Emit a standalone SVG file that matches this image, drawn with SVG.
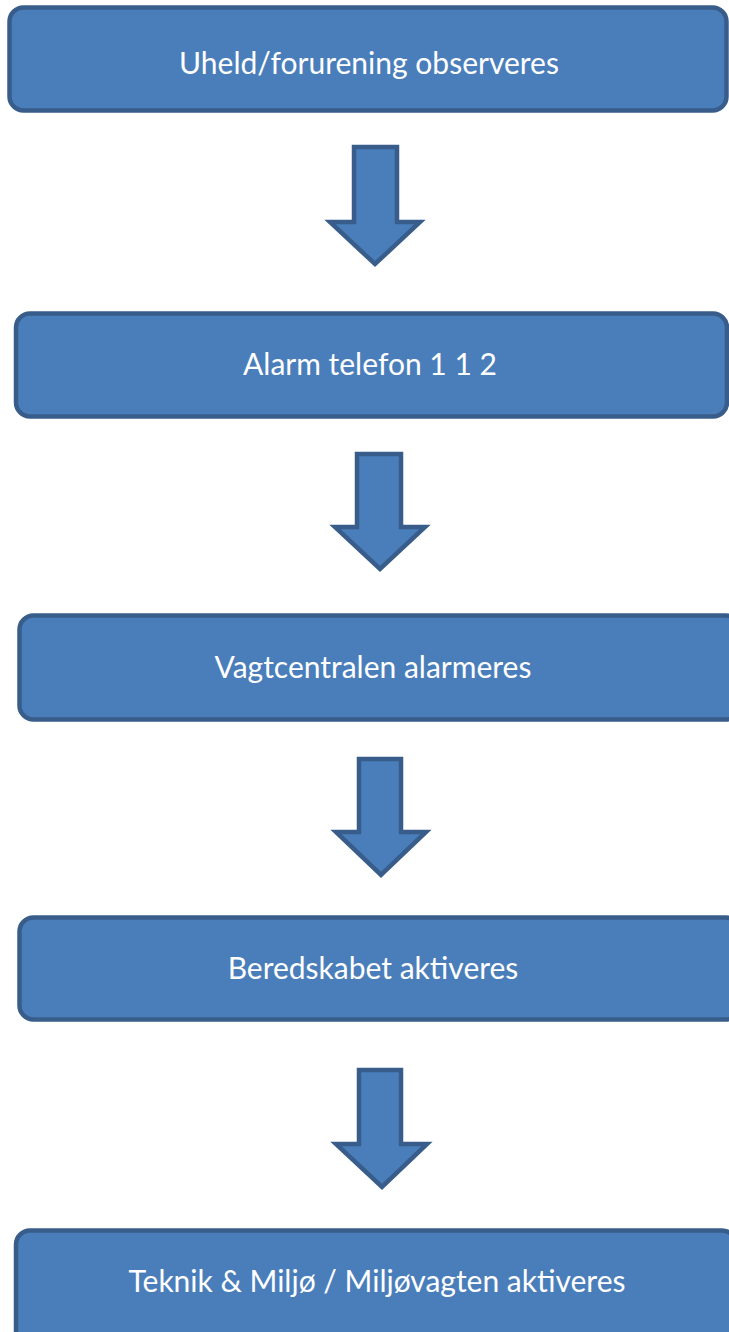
<svg xmlns="http://www.w3.org/2000/svg" width="729" height="1332" viewBox="0 0 729 1332">
<style>
.box{fill:#4a7ebb;stroke:#385d8a;stroke-width:4.5}
.arr{fill:#4a7ebb;stroke:#385d8a;stroke-width:4.5;stroke-linejoin:miter}
.lbl{font-family:Lato,"Open Sans",sans-serif;font-size:30px;fill:#ffffff;text-anchor:middle}
</style>
<rect width="729" height="1332" fill="#ffffff"/>
<g id="connectors">
<polygon class="arr" points="354,147 397,147 397,222 420,222 375,264 330,222 354,222"/>
<polygon class="arr" points="357,454 401,454 401,527 425,527 380,569 335,527 357,527"/>
<polygon class="arr" points="359,759 401,759 401,832 426,832 381,875 336,832 359,832"/>
<polygon class="arr" points="359,1070 401,1070 401,1144 427,1144 382,1187 336,1144 359,1144"/>
</g>
<g id="node1">
<rect class="box" x="9.5" y="7.5" width="717" height="103" rx="14"/>
<text class="lbl" x="369" y="74">Uheld/forurening observeres</text>
</g>
<g id="node2">
<rect class="box" x="16" y="313.5" width="711" height="103" rx="14"/>
<text class="lbl" x="370" y="375">Alarm telefon 1 1 2</text>
</g>
<g id="node3">
<rect class="box" x="19.5" y="615.5" width="720" height="104" rx="14"/>
<text class="lbl" x="373" y="678">Vagtcentralen alarmeres</text>
</g>
<g id="node4">
<rect class="box" x="19.5" y="917.5" width="720" height="102" rx="14"/>
<text class="lbl" x="373" y="979">Beredskabet aktiveres</text>
</g>
<g id="node5">
<rect class="box" x="16" y="1230.5" width="720" height="120" rx="14"/>
<text class="lbl" x="377" y="1292">Teknik &amp; Miljø / Miljøvagten aktiveres</text>
</g>
</svg>
